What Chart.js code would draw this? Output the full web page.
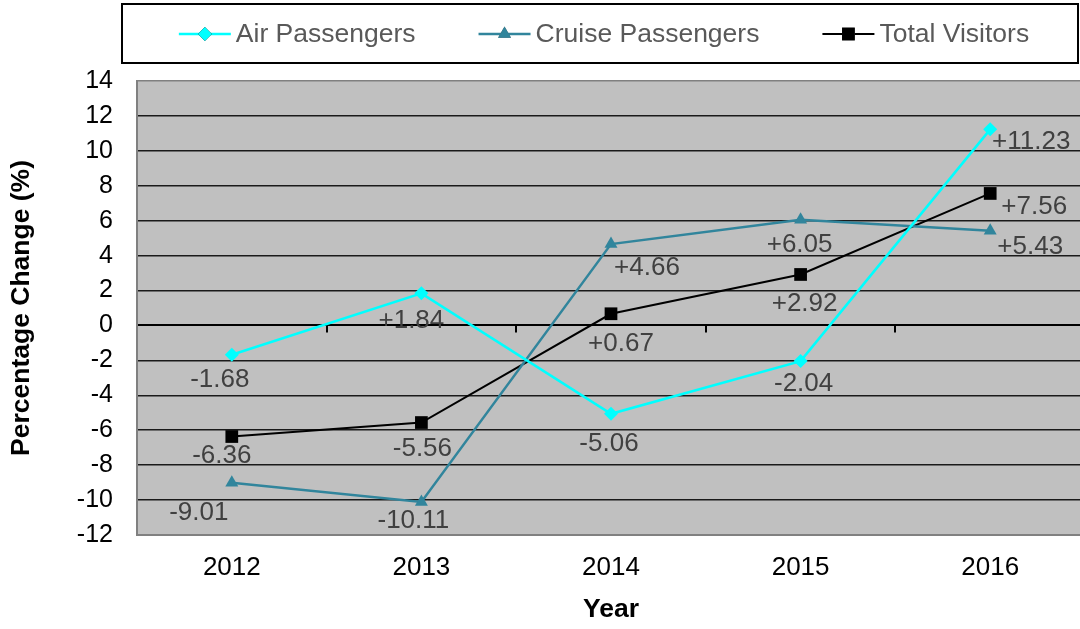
<!DOCTYPE html>
<html>
<head>
<meta charset="utf-8">
<script src="https://cdn.jsdelivr.net/npm/chart.js@4.4.1/dist/chart.umd.min.js"></script>
<style>
  html, body { margin: 0; padding: 0; background: #fff; overflow: hidden; }
  #wrap { width: 1094px; height: 629px; }
</style>
</head>
<body>
<div id="wrap"><canvas id="c" width="1094" height="629"></canvas></div>
<script>
// ---- data ----
const categories = ['2012', '2013', '2014', '2015', '2016'];
const airPassengers = [-1.68, 1.84, -5.06, -2.04, 11.23];
const cruisePassengers = [-9.01, -10.11, 4.66, 6.05, 5.43];
const totalVisitors = [-6.36, -5.56, 0.67, 2.92, 7.56];
const seriesNames = ['Air Passengers', 'Cruise Passengers', 'Total Visitors'];
const yMin = -12, yMax = 14, yStep = 2;
const xTitle = 'Year';
const yTitle = 'Percentage Change (%)';

// label placement offsets relative to each point (px), per series
const labelOffsets = [
  [[-12, 25], [-10, 27], [-2, 30], [3, 23], [41, 12]],
  [[-33, 30], [-8, 19], [36, 24], [-1, 25], [40, 16]],
  [[-10, 19], [1, 26], [10, 30], [4, 29], [44, 13]]
];

const FONT = "'Liberation Sans', Arial, sans-serif";

const fmt = v => (v > 0 ? '+' : '') + v.toFixed(2);

const bgPlugin = {
  id: 'plotBg',
  beforeDraw(chart) {
    const { ctx, chartArea: a } = chart;
    ctx.save();
    ctx.fillStyle = '#c0c0c0';
    ctx.fillRect(a.left, a.top, a.right - a.left, a.bottom - a.top);
    ctx.restore();
  },
  beforeDatasetsDraw(chart) {
    // category-boundary tick marks on the zero line
    const { ctx } = chart;
    const x = chart.scales.x, y = chart.scales.y;
    const y0 = y.getPixelForValue(0);
    ctx.save();
    ctx.strokeStyle = '#000';
    ctx.lineWidth = 2;
    for (let i = 0; i < categories.length - 1; i++) {
      const px = Math.round((x.getPixelForValue(i) + x.getPixelForValue(i + 1)) / 2);
      ctx.beginPath();
      ctx.moveTo(px, y0);
      ctx.lineTo(px, y0 + 7);
      ctx.stroke();
    }
    ctx.restore();
  }
};

const labelPlugin = {
  id: 'valueLabels',
  afterDatasetsDraw(chart) {
    const { ctx } = chart;
    ctx.save();
    ctx.font = '26px ' + FONT;
    ctx.fillStyle = '#404040';
    ctx.textAlign = 'center';
    ctx.textBaseline = 'middle';
    chart.data.datasets.forEach((ds, di) => {
      const meta = chart.getDatasetMeta(di);
      meta.data.forEach((pt, i) => {
        const off = labelOffsets[di][i];
        ctx.fillText(fmt(ds.data[i]), pt.x + off[0], pt.y + off[1]);
      });
    });
    ctx.restore();
  }
};

const legendPlugin = {
  id: 'boxLegend',
  afterDraw(chart) {
    const { ctx } = chart;
    ctx.save();
    // box
    ctx.strokeStyle = '#000';
    ctx.lineWidth = 2;
    ctx.strokeRect(122, 4, 956, 59);
    ctx.font = '26.5px ' + FONT;
    ctx.textBaseline = 'middle';
    ctx.textAlign = 'left';
    const lineLen = 52, gapText = 5, gapItem = 63;
    const widths = chart.data.datasets.map(ds => lineLen + gapText + ctx.measureText(ds.label).width);
    const total = widths.reduce((a, b) => a + b, 0) + gapItem * (widths.length - 1);
    let x = 600 - total / 2 + 4;
    const cy = 34;
    chart.data.datasets.forEach((ds, di) => {
      ctx.strokeStyle = ds.borderColor;
      ctx.lineWidth = ds.borderWidth;
      ctx.beginPath();
      ctx.moveTo(x, cy);
      ctx.lineTo(x + lineLen, cy);
      ctx.stroke();
      Chart.helpers.drawPoint(ctx, {
        pointStyle: ds.pointStyle,
        radius: ds.pointRadius,
        borderWidth: 0,
        rotation: 0
      }, x + lineLen / 2, cy);
      ctx.fillStyle = ds.pointBackgroundColor;
      ctx.fill();
      ctx.fillStyle = '#595959';
      ctx.fillText(ds.label, x + lineLen + gapText, cy + 1);
      x += widths[di] + gapItem;
    });
    ctx.restore();
  }
};

const gridColor = c => {
  const v = c.tick && c.tick.value;
  if (v === yMax || v === yMin) return '#808080';
  if (v === 0) return '#000';
  return '#1a1a1a';
};

new Chart(document.getElementById('c'), {
  type: 'line',
  data: {
    labels: categories,
    datasets: [
      {
        label: seriesNames[0], data: airPassengers,
        borderColor: '#00ffff', backgroundColor: '#00ffff',
        pointBackgroundColor: '#00ffff', pointBorderColor: '#00ffff',
        borderWidth: 2.5, pointStyle: 'rectRot', pointRadius: 7, pointBorderWidth: 0,
        tension: 0
      },
      {
        label: seriesNames[1], data: cruisePassengers,
        borderColor: '#31859c', backgroundColor: '#31859c',
        pointBackgroundColor: '#31859c', pointBorderColor: '#31859c',
        borderWidth: 2.5, pointStyle: 'triangle', pointRadius: 7.5, pointBorderWidth: 0,
        tension: 0
      },
      {
        label: seriesNames[2], data: totalVisitors,
        borderColor: '#000000', backgroundColor: '#000000',
        pointBackgroundColor: '#000000', pointBorderColor: '#000000',
        borderWidth: 2, pointStyle: 'rect', pointRadius: 9, pointBorderWidth: 0,
        tension: 0
      }
    ]
  },
  options: {
    responsive: false,
    animation: false,
    devicePixelRatio: 1,
    layout: { padding: { top: 81, left: 0, right: 0, bottom: 0 } },
    plugins: { legend: { display: false }, tooltip: { enabled: false } },
    elements: { point: { hoverRadius: 0 } },
    scales: {
      x: {
        type: 'category',
        offset: true,
        grid: { display: true, color: 'rgba(0,0,0,0)', drawTicks: false },
        border: { display: true, color: '#808080', width: 2 },
        ticks: { color: '#000', font: { family: FONT, size: 26 }, padding: 17, maxRotation: 0 },
        title: { display: true, text: xTitle, color: '#000', font: { family: FONT, size: 26.5, weight: 'bold' }, padding: { top: 2, bottom: 3 } },
        afterFit(s) { s.height = 94; }
      },
      y: {
        min: yMin, max: yMax,
        ticks: { stepSize: yStep, color: '#000', font: { family: FONT, size: 25 }, padding: 24 },
        grid: { color: gridColor, lineWidth: c => (c.tick && c.tick.value === 0 ? 2 : 1.5), drawTicks: false },
        border: { display: true, color: '#808080', width: 2 },
        title: { display: true, text: yTitle, color: '#000', font: { family: FONT, size: 26.5, weight: 'bold' }, padding: { top: 6, bottom: 0 } },
        afterFit(s) { s.width = 137; }
      }
    }
  },
  plugins: [bgPlugin, labelPlugin, legendPlugin]
});
</script>
</body>
</html>
